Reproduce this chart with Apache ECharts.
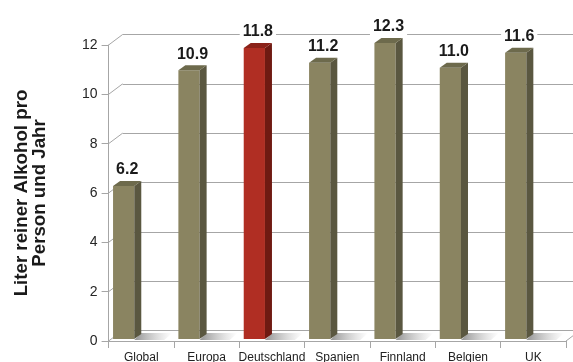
<!DOCTYPE html>
<html>
<head>
<meta charset="utf-8">
<script src="https://cdn.jsdelivr.net/npm/echarts@6/dist/echarts.min.js"></script>
<style>html,body{margin:0;padding:0;background:#fff;}#c{width:573px;height:362px;}</style>
</head>
<body>
<div id="c"></div>
<script>
// ---- data ----
const categories = ['Global', 'Europa', 'Deutschland', 'Spanien', 'Finnland', 'Belgien', 'UK'];
const values = [6.2, 10.9, 11.8, 11.2, 12.3, 11.0, 11.6];
const highlight = ['Deutschland'];
const yTicks = [0, 2, 4, 6, 8, 10, 12];
const yAxisName = 'Liter reiner Alkohol pro\nPerson und Jahr';

// ---- style ----
const Y_MAX = 12, Y_INT = 2;
const DEPTH_X = 14, DEPTH_Y = 10.5;
const GRID = { left: 108.6, right: 7, top: 45, bottom: 21 };
const GRID_COLOR = '#a6a6a6';
const FONT = 'Liberation Sans, Arial, sans-serif';
const olive = { front: '#8a8461', side: '#5a5740', top: '#6d6a4c' };
const red = { front: '#b02e23', side: '#6f1a12', top: '#8b2219' };

const chart = echarts.init(document.getElementById('c'), null, { renderer: 'canvas' });

function renderBar(params, api) {
  const idx = api.value(0);
  const v = Math.min(api.value(1), Y_MAX);
  const band = api.size([1, 0])[0];
  const c0 = api.coord([idx, 0]);
  const cv = api.coord([idx, v]);
  const w = band * 0.325, dx = 7, dy = 5;
  const left = c0[0] - band / 2 + band * 0.068;
  const yb = c0[1] - 2, yt = cv[1] - 2;
  const col = highlight.indexOf(categories[idx]) >= 0 ? red : olive;
  return {
    type: 'group',
    children: [
      { type: 'polygon', z2: 1,
        shape: { points: [[left + w, yb + 1], [left + w + 30, yb + 1], [left + w + 38, yb - 6], [left + w + dx, yb - 6]] },
        style: { fill: new echarts.graphic.LinearGradient(0, 0, 1, 0, [
          { offset: 0, color: 'rgba(110,110,110,0.75)' }, { offset: 1, color: 'rgba(160,160,160,0)' }]) } },
      { type: 'rect', z2: 3, shape: { x: left, y: yt, width: w, height: yb - yt }, style: { fill: col.front } },
      { type: 'polygon', z2: 3, shape: { points: [[left + w, yt], [left + w + dx, yt - dy], [left + w + dx, yb - dy], [left + w, yb]] }, style: { fill: col.side } },
      { type: 'polygon', z2: 3, shape: { points: [[left, yt], [left + dx, yt - dy], [left + w + dx, yt - dy], [left + w, yt]] }, style: { fill: col.top } },
      { type: 'text', z2: 5, x: left + (w + dx) / 2, y: yt - 16,
        style: { text: api.value(1).toFixed(1), font: 'bold 16px ' + FONT, fill: '#1a1a1a',
          align: 'center', verticalAlign: 'middle', backgroundColor: '#fff', padding: [1, 3, 0, 3] } }
    ]
  };
}

function renderFrame(params, api) {
  const v = api.value(0);
  const band = api.size([1, 0])[0];
  const p = api.coord([0, v]);
  const xl = p[0] - band / 2;
  const children = [
    { type: 'line', shape: { x1: xl, y1: p[1], x2: xl + DEPTH_X, y2: p[1] - DEPTH_Y }, style: { stroke: GRID_COLOR, lineWidth: 1 } }
  ];
  if (v === 0) {
    const pr = api.coord([categories.length - 1, 0]);
    const xr = pr[0] + band / 2;
    children.push({ type: 'line', shape: { x1: xr, y1: pr[1], x2: xr + DEPTH_X, y2: pr[1] - DEPTH_Y }, style: { stroke: GRID_COLOR, lineWidth: 1 } });
  }
  return { type: 'group', children };
}

const option = {
  backgroundColor: '#ffffff',
  animation: false,
  grid: [
    { left: GRID.left, right: GRID.right, top: GRID.top, bottom: GRID.bottom, outerBoundsMode: 'none', containLabel: false },
    { left: GRID.left + DEPTH_X, right: GRID.right - DEPTH_X, top: GRID.top - DEPTH_Y, bottom: GRID.bottom + DEPTH_Y, outerBoundsMode: 'none', containLabel: false }
  ],
  xAxis: [
    { type: 'category', gridIndex: 0, data: categories, boundaryGap: true,
      axisLine: { lineStyle: { color: GRID_COLOR } },
      axisTick: { show: true, length: 7, lineStyle: { color: GRID_COLOR } },
      axisLabel: { fontSize: 12, color: '#222', fontFamily: FONT, margin: 11, interval: 0 } },
    { type: 'category', gridIndex: 1, data: categories, show: false }
  ],
  yAxis: [
    { type: 'value', gridIndex: 0, min: 0, max: Y_MAX, interval: Y_INT,
      name: yAxisName, nameLocation: 'middle', nameGap: 59, nameRotate: 90,
      nameTextStyle: { fontSize: 18.7, fontWeight: 'bold', color: '#1a1a1a', fontFamily: FONT, lineHeight: 18.5 },
      axisLine: { show: true, lineStyle: { color: GRID_COLOR } },
      axisTick: { show: true, length: 7, lineStyle: { color: GRID_COLOR } },
      axisLabel: { fontSize: 14, color: '#262626', fontFamily: FONT, margin: 11,
        formatter: v => yTicks.indexOf(v) >= 0 ? String(v) : '' },
      splitLine: { show: false } },
    { type: 'value', gridIndex: 1, min: 0, max: Y_MAX, interval: Y_INT,
      axisLine: { show: false }, axisTick: { show: false }, axisLabel: { show: false },
      splitLine: { show: true, lineStyle: { color: GRID_COLOR, width: 1 } } }
  ],
  series: [
    { type: 'custom', xAxisIndex: 0, yAxisIndex: 0, renderItem: renderFrame,
      data: yTicks.map(v => [v]), encode: { y: 0 }, silent: true, z: 1 },
    { type: 'custom', xAxisIndex: 0, yAxisIndex: 0, renderItem: renderBar,
      data: values.map((v, i) => [i, v]), encode: { x: 0, y: 1 }, z: 3 }
  ]
};
chart.setOption(option);
</script>
</body>
</html>
